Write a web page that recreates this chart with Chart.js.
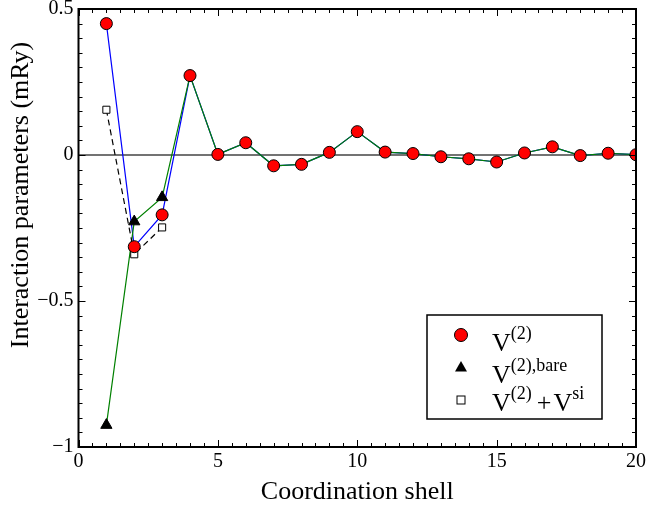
<!DOCTYPE html>
<html>
<head>
<meta charset="utf-8">
<script src="https://cdn.jsdelivr.net/npm/chart.js@4"></script>
<style>
  html, body { margin: 0; padding: 0; background: #fff; }
  #wrap { width: 646px; height: 508px; }
</style>
</head>
<body>
<div id="wrap"><canvas id="chartCanvas" width="646" height="508"></canvas></div>
<script>
const shells = [1, 2, 3, 4, 5, 6, 7, 8, 9, 10, 11, 12, 13, 14, 15, 16, 17, 18, 19, 20];
const v2 = [0.45, -0.314, -0.205, 0.272, 0.002, 0.042, -0.037, -0.032, 0.009, 0.08, 0.01, 0.005, -0.006, -0.013, -0.024, 0.007, 0.028, -0.002, 0.006, 0.001];
const v2bare = [-0.925, -0.228, -0.145, 0.272, 0.002, 0.042, -0.037, -0.032, 0.009, 0.08, 0.01, 0.005, -0.006, -0.013, -0.024, 0.007, 0.028, -0.002, 0.006, 0.001];
const siShells = [1, 2, 3];
const v2si = [0.155, -0.34, -0.248];
const xTicks = [0, 5, 10, 15, 20];
const yTicks = [-1, -0.5, 0, 0.5];

const serif = 'Liberation Serif';
const pts = (xs, ys) => xs.map((x, i) => ({ x: x, y: ys[i] }));

// frame, inward ticks, zero line, y title and the hand-drawn legend with superscripts
const decor = {
  id: 'decor',
  beforeDatasetsDraw(c) {
    const { ctx, chartArea: a, scales: { y } } = c;
    ctx.save();
    ctx.strokeStyle = '#444'; ctx.lineWidth = 1.5;
    ctx.beginPath(); ctx.moveTo(a.left, y.getPixelForValue(0)); ctx.lineTo(a.right, y.getPixelForValue(0)); ctx.stroke();
    ctx.restore();
  },
  afterDraw(c) {
    const { ctx, chartArea: a, scales: { x, y } } = c;
    ctx.save();
    ctx.strokeStyle = '#000'; ctx.lineWidth = 1;
    ctx.beginPath();
    for (let v = 0; v <= 20.001; v += 0.5) {
      const px = Math.round(x.getPixelForValue(v)) + 0.5, len = Math.abs(v % 5) < 1e-6 ? 7 : 4;
      ctx.moveTo(px, a.bottom); ctx.lineTo(px, a.bottom - len);
      ctx.moveTo(px, a.top); ctx.lineTo(px, a.top + len);
    }
    for (let i = -20; i <= 10; i++) {
      const v = i * 0.05, py = Math.round(y.getPixelForValue(v)) + 0.5, len = i % 10 === 0 ? 7 : 4;
      ctx.moveTo(a.left, py); ctx.lineTo(a.left + len, py);
      ctx.moveTo(a.right, py); ctx.lineTo(a.right - len, py);
    }
    ctx.stroke();
    ctx.lineWidth = 2;
    ctx.strokeRect(a.left, a.top, a.right - a.left, a.bottom - a.top);

    // y axis title
    ctx.save();
    ctx.translate(21, 195); ctx.rotate(-Math.PI / 2);
    ctx.fillStyle = '#000'; ctx.font = '26px ' + serif; ctx.textAlign = 'center'; ctx.textBaseline = 'middle';
    ctx.fillText('Interaction parameters (mRy)', 0, 0);
    ctx.restore();

    // legend
    const lx = 427, ly = 315, lw = 175, lh = 104;
    ctx.fillStyle = '#fff'; ctx.fillRect(lx, ly, lw, lh);
    ctx.lineWidth = 1.5; ctx.strokeRect(lx, ly, lw, lh);
    const mx = 461;
    ctx.lineWidth = 1; ctx.strokeStyle = '#000';
    ctx.fillStyle = '#ff0000';
    ctx.beginPath(); ctx.arc(mx, 335, 6.5, 0, Math.PI * 2); ctx.fill(); ctx.stroke();
    ctx.fillStyle = '#000';
    ctx.beginPath(); ctx.moveTo(mx, 361); ctx.lineTo(mx + 6, 371.5); ctx.lineTo(mx - 6, 371.5); ctx.closePath(); ctx.fill();
    ctx.fillStyle = '#fff';
    ctx.fillRect(mx - 4, 400 - 4, 8, 8); ctx.strokeRect(mx - 4, 400 - 4, 8, 8);

    ctx.fillStyle = '#000'; ctx.textBaseline = 'alphabetic'; ctx.textAlign = 'left';
    const big = '26px ' + serif, small = '18px ' + serif;
    const runs = (x0, base, parts) => {
      let cx = x0;
      parts.forEach(p => {
        ctx.font = p[1] ? small : big;
        ctx.fillText(p[0], cx, base - (p[1] ? 12 : 0));
        cx += ctx.measureText(p[0]).width + (p[2] || 0);
      });
    };
    runs(492, 351, [['V', false], ['(2)', true]]);
    runs(492, 383, [['V', false], ['(2),bare', true]]);
    runs(492, 411, [['V', false], ['(2)', true, 5], ['+', false, 2], ['V', false], ['si', true]]);
    ctx.restore();
  }
};

new Chart(document.getElementById('chartCanvas').getContext('2d'), {
  type: 'scatter',
  data: {
    datasets: [
      { label: 'V(2)', data: pts(shells, v2), showLine: true, borderColor: '#0000ff', borderWidth: 1.2, pointRadius: 0, order: 5 },
      { label: 'V(2),bare', data: pts(shells, v2bare), showLine: true, borderColor: '#008000', borderWidth: 1.2, pointRadius: 0, order: 4 },
      { label: 'V(2)+Vsi', data: pts(siShells, v2si), showLine: true, borderColor: '#000', borderWidth: 1.2, borderDash: [6, 4], pointStyle: 'rect', pointRadius: 5, pointBackgroundColor: '#fff', pointBorderColor: '#000', pointBorderWidth: 1, order: 3 },
      { label: 'bare markers', data: pts(shells.slice(0, 3), v2bare.slice(0, 3)), showLine: false, pointStyle: 'triangle', pointRadius: 6.5, pointBackgroundColor: '#000', pointBorderColor: '#000', pointBorderWidth: 1, order: 2 },
      { label: 'V2 markers', data: pts(shells, v2), showLine: false, pointStyle: 'circle', pointRadius: 6, pointBackgroundColor: '#ff0000', pointBorderColor: '#000', pointBorderWidth: 1, order: 1 }
    ]
  },
  options: {
    responsive: false, animation: false,
    layout: { padding: { top: 9, right: 10, left: 0, bottom: 0 } },
    plugins: { legend: { display: false }, tooltip: { enabled: false } },
    scales: {
      x: {
        type: 'linear', min: 0, max: 20,
        afterBuildTicks: s => { s.ticks = xTicks.map(v => ({ value: v })); },
        ticks: { color: '#000', font: { family: serif, size: 20 }, padding: 3, maxRotation: 0, callback: v => String(v) },
        grid: { display: false, drawTicks: false },
        border: { display: false },
        title: { display: true, text: 'Coordination shell', color: '#000', font: { family: serif, size: 26 }, padding: { top: 0, bottom: 0 } },
        afterFit: s => { s.height = 61; s.paddingLeft = 0; s.paddingRight = 0; }
      },
      y: {
        type: 'linear', min: -1, max: 0.5,
        afterBuildTicks: s => { s.ticks = yTicks.map(v => ({ value: v })); },
        ticks: { color: '#000', font: { family: serif, size: 20 }, padding: 5, callback: v => (v < 0 ? '\u2212' + Math.abs(v) : String(v)) },
        grid: { display: false, drawTicks: false },
        border: { display: false },
        afterFit: s => { s.width = 78.5; s.paddingTop = 0; s.paddingBottom = 0; }
      }
    }
  },
  plugins: [decor]
});
</script>
</body>
</html>
